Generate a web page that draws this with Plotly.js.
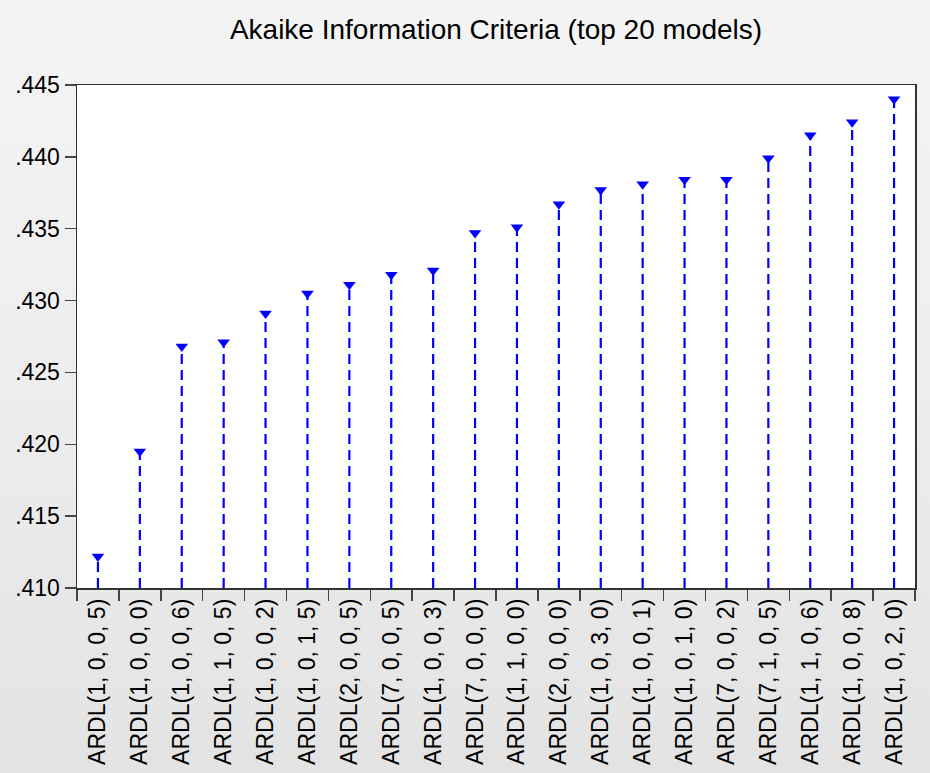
<!DOCTYPE html>
<html>
<head>
<meta charset="utf-8">
<script src="https://cdn.plot.ly/plotly-3.0.1.min.js"></script>
<style>
  html, body { margin: 0; padding: 0; }
  body { width: 930px; height: 773px; background: linear-gradient(to bottom, #f4f4f4 0%, #efefef 40%, #e3e3e3 100%); }
  #chart { width: 930px; height: 773px; }
</style>
</head>
<body>
<div id="chart"></div>
<script>
const titleText = "Akaike Information Criteria (top 20 models)";
const models = [
  "ARDL(1, 0, 0, 5)", "ARDL(1, 0, 0, 0)", "ARDL(1, 0, 0, 6)", "ARDL(1, 1, 0, 5)",
  "ARDL(1, 0, 0, 2)", "ARDL(1, 0, 1, 5)", "ARDL(2, 0, 0, 5)", "ARDL(7, 0, 0, 5)",
  "ARDL(1, 0, 0, 3)", "ARDL(7, 0, 0, 0)", "ARDL(1, 1, 0, 0)", "ARDL(2, 0, 0, 0)",
  "ARDL(1, 0, 3, 0)", "ARDL(1, 0, 0, 1)", "ARDL(1, 0, 1, 0)", "ARDL(7, 0, 0, 2)",
  "ARDL(7, 1, 0, 5)", "ARDL(1, 1, 0, 6)", "ARDL(1, 0, 0, 8)", "ARDL(1, 0, 2, 0)"
];
const aic = [
  0.4122, 0.4195, 0.4268, 0.4271, 0.4291, 0.4305, 0.4311, 0.4318, 0.4321, 0.4347,
  0.4351, 0.4367, 0.4377, 0.4381, 0.4384, 0.4384, 0.4399, 0.4415, 0.4424, 0.4440
];
const yTickVals = [0.410, 0.415, 0.420, 0.425, 0.430, 0.435, 0.440, 0.445];
const yTickText = [".410", ".415", ".420", ".425", ".430", ".435", ".440", ".445"];
const yRange = [0.410, 0.445];

// drop lines built from the data (category, from axis bottom to value)
const dropX = [], dropY = [];
models.forEach((m, i) => { dropX.push(m, m, null); dropY.push(yRange[0], aic[i], null); });

const traces = [
  {
    type: "scatter", mode: "lines", x: dropX, y: dropY,
    line: { color: "#0000ff", width: 2.2, dash: "10px,6px" },
    hoverinfo: "skip", showlegend: false, connectgaps: false
  },
  {
    type: "scatter", mode: "markers", x: models, y: aic,
    marker: { symbol: "triangle-down", size: 11, color: "#0000ff" },
    showlegend: false
  }
];

const layout = {
  width: 930, height: 773,
  paper_bgcolor: "rgba(0,0,0,0)",
  plot_bgcolor: "#ffffff",
  margin: { l: 77, r: 15, t: 85, b: 185, pad: 0 },
  font: { family: "Liberation Sans, Arial, sans-serif", color: "#000000" },
  title: {
    text: titleText,
    font: { size: 28, color: "#000000", family: "Liberation Sans, Arial, sans-serif" },
    x: 0.5, xref: "paper", xanchor: "center",
    y: 1 - 29 / 773, yref: "container", yanchor: "middle"
  },
  xaxis: {
    type: "category",
    categoryorder: "array", categoryarray: models,
    range: [-0.5, models.length - 0.5],
    tickson: "boundaries",
    ticks: "outside", ticklen: 11, tickwidth: 1.5, tickcolor: "#444444",
    tickangle: -90,
    tickfont: { size: 23, color: "#000000" },
    showline: true, linecolor: "#333333", linewidth: 1.5, mirror: true,
    showgrid: false, zeroline: false, fixedrange: true
  },
  yaxis: {
    range: yRange,
    tickvals: yTickVals, ticktext: yTickText,
    ticks: "outside", ticklen: 11, tickwidth: 1.5, tickcolor: "#444444",
    tickfont: { size: 23, color: "#000000" },
    showline: true, linecolor: "#333333", linewidth: 1.5, mirror: true,
    showgrid: false, zeroline: false, fixedrange: true
  }
};

Plotly.newPlot("chart", traces, layout, { displayModeBar: false, staticPlot: true });
</script>
</body>
</html>
